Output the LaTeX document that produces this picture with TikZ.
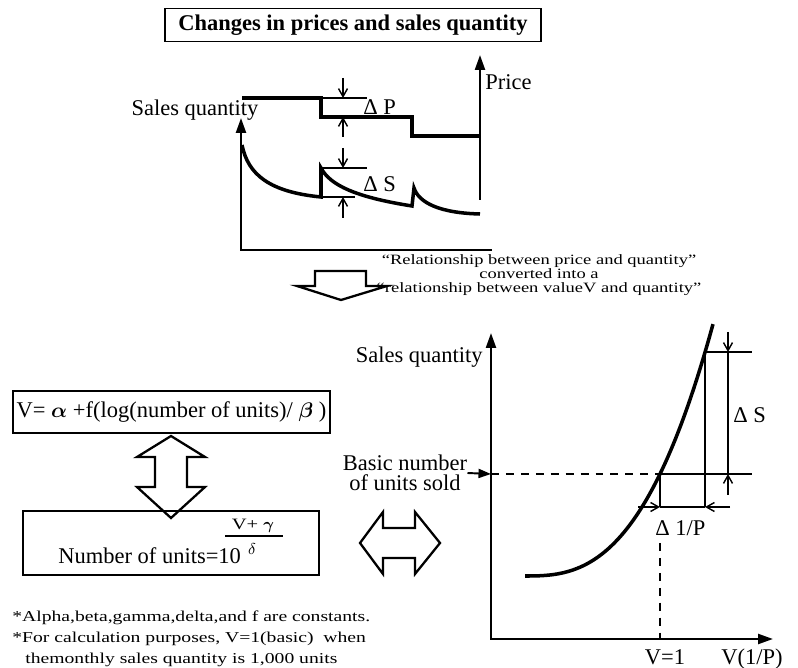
\documentclass[tikz,border=0pt]{standalone}
\usepackage{amsmath,amssymb}
\usepackage{fontspec}
\setmainfont{Liberation Serif}
\newfontfamily\widefont[FakeStretch=1.3]{Liberation Serif}
\usetikzlibrary{arrows.meta}

\begin{document}
\begin{tikzpicture}[x=0.02cm,y=-0.02cm,
  >={Triangle[length=3mm,width=2mm]},
  txt/.style={inner sep=0pt,font=\fontsize{12.8}{15}\selectfont},
  note/.style={inner sep=0pt,font=\widefont\fontsize{8.1}{7.9}\selectfont},
  foot/.style={inner sep=0pt,font=\widefont\fontsize{8.6}{11.7}\selectfont},
  axis/.style={line width=1.3pt},
  curve/.style={line width=2pt},
  guide/.style={line width=0.8pt},
  dimto/.style={guide,-{Straight Barb[length=1.6mm,width=1.8mm]}},
  hollow/.style={line width=1.3pt,line join=miter},
  eqbox/.style={draw,line width=1.1pt,inner sep=0pt}]
\useasboundingbox (0,0) rectangle (798,668);

% title
\node[eqbox,minimum width=7.52cm,minimum height=0.66cm,
  font=\bfseries\fontsize{12.8}{15}\selectfont] (title) at (353,25) {Changes in prices and sales quantity};

% upper chart: price and sales quantity over time
\coordinate (o1) at (241,250);
\coordinate (pb) at (480,200);
\draw[axis,->] (pb) -- (480,55);
\node[txt,anchor=west] (price) at (485,82) {Price};
\draw[curve] (242,98) -- (321,98) -- (321,117) -- (412,117) -- (412,136) -- (480,136);
\draw[guide] (321,98) -- (367,98);
\draw[dimto] (343,78) -- (343,98);
\draw[dimto] (343,137) -- (343,117);
\node[txt,anchor=west] (dP) at (363,107) {Δ P};

\draw[axis,->] (492,250) -- (o1) -- (241,118);
\node[txt] (sq1) at (195,110) {Sales quantity};
\draw[curve] (242,145) .. controls (248,175) and (270,192) .. (321,197) -- (321,168)
  .. controls (330,185) and (355,197) .. (412,206) .. controls (413,197) .. (414,188)
  .. controls (419,203) and (440,213) .. (480,214);
\draw[guide] (321,168) -- (367,168);
\draw[guide] (321,197) -- (355,197);
\draw[dimto] (343,148) -- (343,168);
\draw[dimto] (343,218) -- (343,197);
\node[txt,anchor=west] (dS1) at (363,184) {Δ S};

% hollow arrow down
\draw[hollow] (315,271) -- (366,271) -- (366,286) -- (387,286) -- (341,300) -- (297,286) -- (315,286) -- cycle;
\node[note,align=center] (conv) at (539,275) {“Relationship between price and quantity”\\converted into a\\“relationship between valueV and quantity”};

% formulas
\node[eqbox,minimum width=6.34cm,minimum height=0.84cm,txt] (eqV) at (171.5,412)
  {V= $\boldsymbol{\alpha}$ +f(log(number of units)/ $\boldsymbol{\beta}$ )};
\draw[hollow] (171,436) -- (205,457) -- (187,457) -- (187,487) -- (205,487) -- (171,518)
  -- (137,487) -- (155,487) -- (155,457) -- (137,457) -- cycle;
\node[eqbox,minimum width=5.92cm,minimum height=1.28cm] (eqN) at (171,543) {};
\node[txt,anchor=base west] (units) at (58,563) {Number of units=10};
\node[note,font=\widefont\fontsize{9}{10}\selectfont] (num) at (253,526) {V+ $\boldsymbol{\gamma}$};
\draw[guide] (225,536) -- (283,536);
\node[note,font=\widefont\fontsize{9}{10}\selectfont] (den) at (252,549) {$\delta$};

\node[foot,anchor=north west,align=left] (notes) at (12,611)
  {*Alpha,beta,gamma,delta,and f are constants.\\
   *For calculation purposes, V=1(basic)\ \ when\\
   \hspace*{0.26cm}themonthly sales quantity is 1,000 units};

% hollow double arrow
\draw[hollow] (360,543) -- (383,512) -- (383,528) -- (415,528) -- (415,512) -- (440,543)
  -- (415,574) -- (415,558) -- (383,558) -- (383,574) -- cycle;

% lower chart: value V and quantity
\coordinate (o2) at (491,639);
\coordinate (bq) at (491,474);
\coordinate (p1) at (660,474);
\coordinate (p2) at (705,352);
\draw[axis,<->] (491,333) -- (o2) -- (773,639);
\node[txt,anchor=east] (sq2) at (483,357) {Sales quantity};
\node[txt,align=center,font=\fontsize{12.8}{11.5}\selectfont] (basic) at (405,473) {Basic number\\of units sold};
\draw[line width=1.1pt,-{Triangle[length=2.5mm,width=1.8mm]}] (basic.east) -- (bq);
\draw[line width=1.1pt,dash pattern=on 4.5pt off 4pt] (bq) -- (p1);
\draw[guide] (p1) -- (752,474);
\draw[curve] (525,576) -- plot[domain=526:713,samples=60] (\x,{576-102*pow((\x-525)/135,2.73)});
\draw[guide] (p2) -- (752,352);
\draw[guide] (p2) -- (705,507);
\draw[guide] (p1) -- (660,507);
\draw[guide] (660,507) -- (705,507);
\draw[dimto] (638,507) -- (660,507);
\draw[dimto] (730,507) -- (705,507);
\node[txt,anchor=west] (dV) at (655,528) {Δ 1/P};
\draw[line width=1.1pt,dash pattern=on 4.5pt off 4pt] (660,543) -- (660,639);
\draw[dimto] (728,332) -- (728,352);
\draw[guide] (728,352) -- (728,474);
\draw[dimto] (728,495) -- (728,474);
\node[txt,anchor=west] (dS2) at (733,415) {Δ S};
\node[txt,anchor=base] (v1) at (665,664) {V=1};
\node[txt,anchor=base] (vp) at (752,664) {V(1/P)};
\end{tikzpicture}
\end{document}
